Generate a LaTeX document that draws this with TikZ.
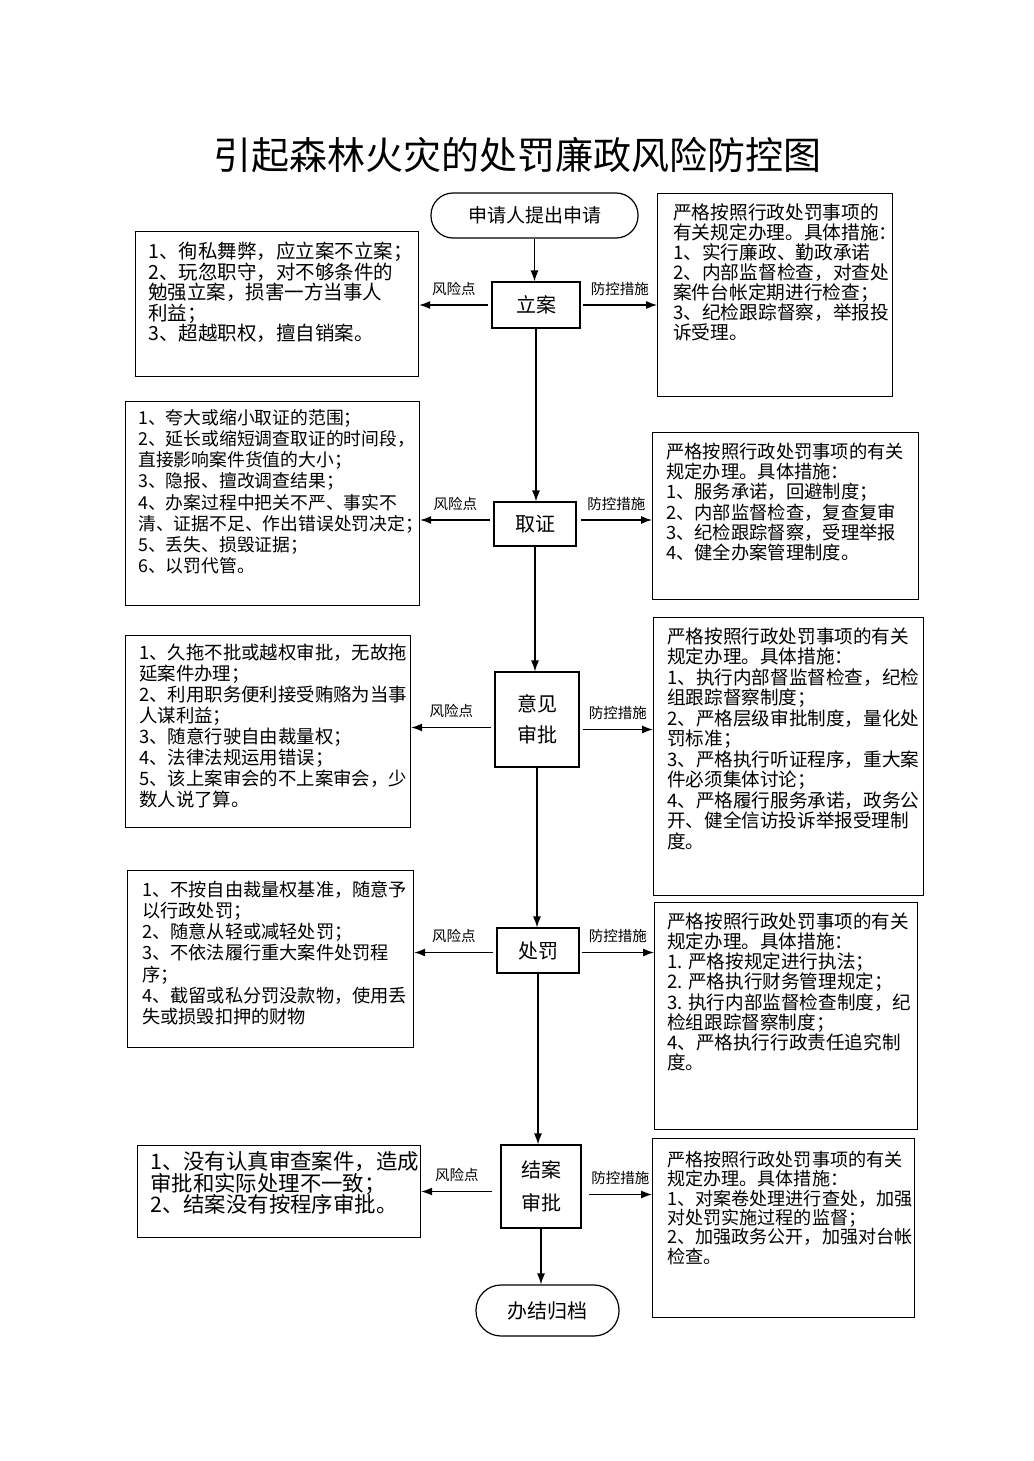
\documentclass[tikz,border=0pt]{standalone}
\usepackage{fontspec}
\setmainfont{Noto Sans CJK SC}
\usetikzlibrary{arrows.meta,calc}

\tikzset{
  flowbox/.style={draw, line width=1.2pt, align=center, inner sep=0pt},
  endbox/.style={flowbox, rounded corners=22pt},
  sidebox/.style={draw, line width=1.2pt, inner sep=0pt, anchor=north west},
  sidetxt/.style={align=left, inner sep=0pt, anchor=north west},
  arr/.style={-{Latex[length=11pt,width=8pt]}, line width=1.2pt},
  lbl/.style={font=\fontsize{14.5}{16}\selectfont, inner sep=0pt, above=9pt}
}

\begin{document}
\begin{tikzpicture}[x=1pt,y=-1pt]
		\useasboundingbox (0,0) rectangle (1033,1461);
		\node (title) at (517,155) {\fontsize{38}{40}\selectfont 引起森林火灾的处罚廉政风险防控图};

		% main flow
		\node[endbox, minimum width=207, minimum height=45, font=\fontsize{19}{21}\selectfont] (start) at (534.5,215.5) {申请人提出申请};
		\node[flowbox, minimum width=88, minimum height=46, font=\fontsize{20}{22}\selectfont] (lian) at (536,305) {立案};
		\node[flowbox, minimum width=82, minimum height=44, font=\fontsize{20}{22}\selectfont] (quzheng) at (535,524) {取证};
		\node[flowbox, minimum width=84, minimum height=95, font=\fontsize{20}{31}\selectfont] (shenpi) at (537,719.5) {意见\\审批};
		\node[flowbox, minimum width=82, minimum height=45, font=\fontsize{20}{22}\selectfont] (chufa) at (538,950.5) {处罚};
		\node[flowbox, minimum width=80, minimum height=83, font=\fontsize{20}{33}\selectfont] (jiean) at (541,1186.5) {结案\\审批};
		\node[endbox, rounded corners=25pt, minimum width=143, minimum height=51, font=\fontsize{20}{22}\selectfont] (done) at (547.5,1310.5) {办结归档};

		\draw[arr] (start.south) -- (start.south |- lian.north);
		\draw[arr] (lian.south) -- (lian.south |- quzheng.north);
		\draw[arr] (quzheng.south) -- (quzheng.south |- shenpi.north);
		\draw[arr] (shenpi.south) -- (shenpi.south |- chufa.north);
		\draw[arr] (chufa.south) -- (chufa.south |- jiean.north);
		\draw[arr] (jiean.south) -- (jiean.south |- done.north);

		% risk points (left)
		\node[sidebox, minimum width=283, minimum height=145] (risk1) at (135,231) {};
		\node[sidetxt, font=\fontsize{19.5}{20.5}\selectfont] (risk1t) at (148,242) {1、徇私舞弊，应立案不立案；\\2、玩忽职守，对不够条件的\\勉强立案，损害一方当事人\\利益；\\3、超越职权，擅自销案。};
		\node[sidebox, minimum width=294, minimum height=204] (risk2) at (125,401) {};
		\node[sidetxt, font=\fontsize{17.8}{21.2}\selectfont] (risk2t) at (138,409) {1、夸大或缩小取证的范围；\\2、延长或缩短调查取证的时间段，\\直接影响案件货值的大小；\\3、隐报、擅改调查结果；\\4、办案过程中把关不严、事实不\\清、证据不足、作出错误处罚决定；\\5、丢失、损毁证据；\\6、以罚代管。};
		\node[sidebox, minimum width=285, minimum height=192] (risk3) at (125,635) {};
		\node[sidetxt, font=\fontsize{18.4}{20.9}\selectfont] (risk3t) at (139,644) {1、久拖不批或越权审批，无故拖\\延案件办理；\\2、利用职务便利接受贿赂为当事\\人谋利益；\\3、随意行驶自由裁量权；\\4、法律法规运用错误；\\5、该上案审会的不上案审会，少\\数人说了算。};
		\node[sidebox, minimum width=286, minimum height=177] (risk4) at (127,870) {};
		\node[sidetxt, font=\fontsize{18.2}{21.1}\selectfont] (risk4t) at (142,881) {1、不按自由裁量权基准，随意予\\以行政处罚；\\2、随意从轻或减轻处罚；\\3、不依法履行重大案件处罚程\\序；\\4、截留或私分罚没款物，使用丢\\失或损毁扣押的财物};
		\node[sidebox, minimum width=283, minimum height=92] (risk5) at (137,1145) {};
		\node[sidetxt, font=\fontsize{21.4}{21.7}\selectfont] (risk5t) at (150,1151) {1、没有认真审查案件，造成\\审批和实际处理不一致；\\2、结案没有按程序审批。};

		% control measures (right)
		\node[sidebox, minimum width=235, minimum height=203] (ctrl1) at (657,193) {};
		\node[sidetxt, font=\fontsize{18.7}{20}\selectfont] (ctrl1t) at (673,203) {严格按照行政处罚事项的\\有关规定办理。具体措施：\\1、实行廉政、勤政承诺\\2、内部监督检查，对查处\\案件台帐定期进行检查；\\3、纪检跟踪督察，举报投\\诉受理。};
		\node[sidebox, minimum width=266, minimum height=167] (ctrl2) at (652,432) {};
		\node[sidetxt, font=\fontsize{18.3}{20.3}\selectfont] (ctrl2t) at (666,442.5) {严格按照行政处罚事项的有关\\规定办理。具体措施：\\1、服务承诺，回避制度；\\2、内部监督检查，复查复审\\3、纪检跟踪督察，受理举报\\4、健全办案管理制度。};
		\node[sidebox, minimum width=270, minimum height=278] (ctrl3) at (653,617) {};
		\node[sidetxt, font=\fontsize{18.6}{20.5}\selectfont] (ctrl3t) at (667,627.4) {严格按照行政处罚事项的有关\\规定办理。具体措施：\\1、执行内部督监督检查，纪检\\组跟踪督察制度；\\2、严格层级审批制度，量化处\\罚标准；\\3、严格执行听证程序，重大案\\件必须集体讨论；\\4、严格履行服务承诺，政务公\\开、健全信访投诉举报受理制\\度。};
		\node[sidebox, minimum width=263, minimum height=227] (ctrl4) at (654,902) {};
		\node[sidetxt, font=\fontsize{18.6}{20.2}\selectfont] (ctrl4t) at (667,912.4) {严格按照行政处罚事项的有关\\规定办理。具体措施：\\1. 严格按规定进行执法；\\2. 严格执行财务管理规定；\\3. 执行内部监督检查制度，纪\\检组跟踪督察制度；\\4、严格执行行政责任追究制\\度。};
		\node[sidebox, minimum width=262, minimum height=179] (ctrl5) at (652,1138) {};
		\node[sidetxt, font=\fontsize{18.1}{19.3}\selectfont] (ctrl5t) at (667,1151) {严格按照行政处罚事项的有关\\规定办理。具体措施：\\1、对案卷处理进行查处，加强\\对处罚实施过程的监督；\\2、加强政务公开，加强对台帐\\检查。};

		% side arrows
		\draw[arr] ([xshift=-3pt]lian.west) -- (lian.west -| risk1.east) node[lbl, midway] {风险点};
		\draw[arr] ([xshift=2pt]lian.east) -- (lian.east -| ctrl1.west) node[lbl, midway] {防控措施};
		\draw[arr] ([xshift=-3pt,yshift=4pt]quzheng.west) -- ([yshift=4pt]quzheng.west -| risk2.east) node[lbl, midway] {风险点};
		\draw[arr] ([xshift=4pt,yshift=4pt]quzheng.east) -- ([yshift=4pt]quzheng.east -| ctrl2.west) node[lbl, midway] {防控措施};
		\draw[arr] ([xshift=-3pt,yshift=-8pt]shenpi.west) -- ([yshift=-8pt]shenpi.west -| risk3.east) node[lbl, midway] {风险点};
		\draw[arr] ([xshift=3pt,yshift=-10pt]shenpi.east) -- ([yshift=-10pt]shenpi.east -| ctrl3.west) node[lbl, midway] {防控措施};
		\draw[arr] ([xshift=-3pt,yshift=-2pt]chufa.west) -- ([yshift=-2pt]chufa.west -| risk4.east) node[lbl, midway] {风险点};
		\draw[arr] ([xshift=2pt,yshift=-2pt]chufa.east) -- ([yshift=-2pt]chufa.east -| ctrl4.west) node[lbl, midway] {防控措施};
		\draw[arr] ([xshift=-8pt,yshift=-5pt]jiean.west) -- ([yshift=-5pt]jiean.west -| risk5.east) node[lbl, midway] {风险点};
		\draw[arr] ([xshift=7pt,yshift=-8pt]jiean.east) -- ([yshift=-8pt]jiean.east -| ctrl5.west) node[lbl, midway] {防控措施};
	\end{tikzpicture}
\end{document}
